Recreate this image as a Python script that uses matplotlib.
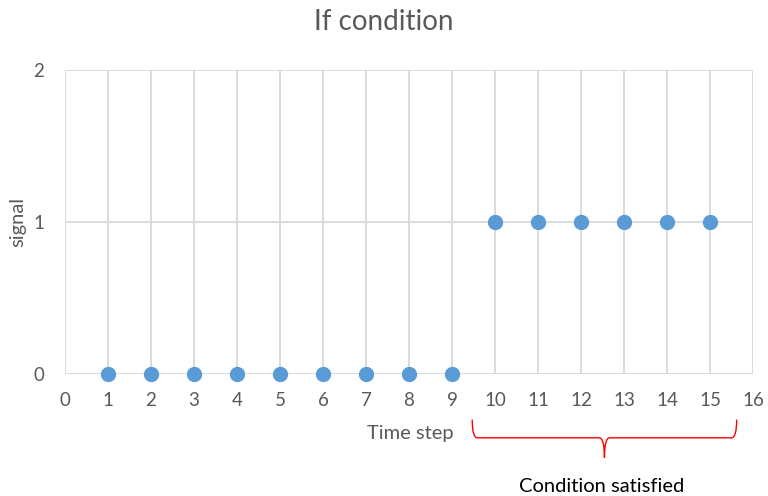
import matplotlib.pyplot as plt
from matplotlib.path import Path
import matplotlib.patches as patches

plt.rcParams['font.family'] = ['Lato', 'DejaVu Sans']

steps = [1, 2, 3, 4, 5, 6, 7, 8, 9, 10, 11, 12, 13, 14, 15]
signal = [0, 0, 0, 0, 0, 0, 0, 0, 0, 1, 1, 1, 1, 1, 1]
x_ticks = list(range(0, 17))
y_ticks = [0, 1, 2]

grey = '#595959'
grid_col = '#d9d9d9'

fig = plt.figure(figsize=(7.68, 4.96), dpi=100)
ax = fig.add_axes([65 / 768, 1 - 374 / 496, 688 / 768, 304 / 496])

# gridlines drawn under the markers
for xv in x_ticks:
    ax.axvline(xv, color=grid_col, lw=1.3, zorder=1)
for yv in y_ticks:
    ax.axhline(yv, color=grid_col, lw=1.3, zorder=1)

ax.plot(steps, signal, 'o', color='#5b9bd5', markersize=10, zorder=3,
        clip_on=False)

ax.set_xlim(0, 16)
ax.set_ylim(0, 2)
ax.set_xticks(x_ticks)
ax.set_yticks(y_ticks)
ax.tick_params(length=0, labelsize=13.5, labelcolor=grey)
ax.tick_params(axis='x', pad=13)
ax.tick_params(axis='y', pad=15)
for s in ax.spines.values():
    s.set_visible(False)

fig.text(0.5, 1 - 22 / 496, 'If condition', ha='center', va='center',
         fontsize=20, color=grey)
fig.text(18 / 768, 1 - 222 / 496, 'signal', ha='center', va='center',
         rotation=90, fontsize=14.5, color=grey)
fig.text(410 / 768, 1 - 434 / 496, 'Time step', ha='center', va='center',
         fontsize=14.5, color=grey)
fig.text(602 / 768, 1 - 486 / 496, 'Condition satisfied', ha='center',
         va='center', fontsize=14.5, color='black')

# curly brace under steps 10..15
x0, x1 = 9.47, 15.62
xm = (x0 + x1) / 2
yt, yf, yb = -0.30, -0.42, -0.55
c = 0.12
verts = [(x0, yt), (x0, yf), (x0 + c, yf),
         (xm - c, yf), (xm, yf), (xm, yb),
         (xm, yf), (xm + c, yf),
         (x1 - c, yf), (x1, yf), (x1, yt)]
codes = [Path.MOVETO, Path.CURVE3, Path.CURVE3,
         Path.LINETO, Path.CURVE3, Path.CURVE3,
         Path.CURVE3, Path.CURVE3,
         Path.LINETO, Path.CURVE3, Path.CURVE3]
brace = patches.PathPatch(Path(verts, codes), facecolor='none',
                          edgecolor='red', lw=1.0, clip_on=False)
ax.add_patch(brace)

fig.savefig('out.png', dpi=100)
